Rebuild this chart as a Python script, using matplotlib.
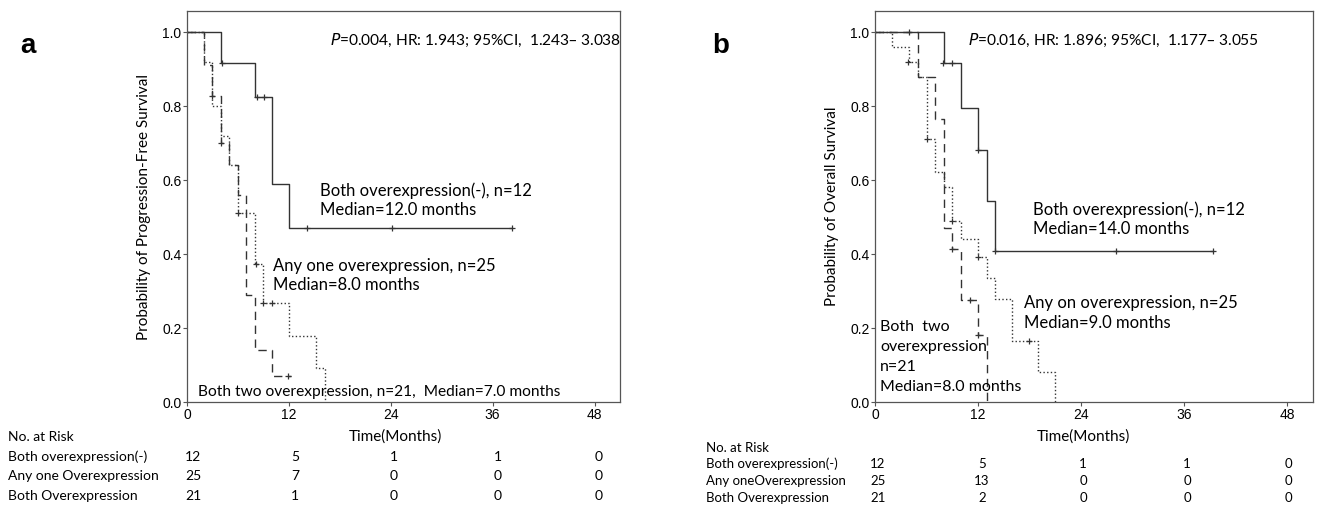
import numpy as np
import matplotlib.pyplot as plt

W, H = 1323, 505

# ---------------- panel a : progression-free survival ----------------
a_none_t = [0, 4, 8, 10, 12]
a_none_s = [1.0, 0.917, 0.825, 0.589, 0.471]
a_none_end = 38.3
a_none_cens_t = [4.1, 8.2, 9.1, 14.1, 24.2, 38.3]
a_none_cens_s = [0.917, 0.825, 0.825, 0.471, 0.471, 0.471]

a_one_t = [0, 2, 3, 4, 5, 6, 8, 9, 12, 15.2, 16.2]
a_one_s = [1.0, 0.92, 0.80, 0.72, 0.64, 0.51, 0.372, 0.268, 0.178, 0.092, 0.0]
a_one_end = 16.2
a_one_cens_t = [6.0, 8.1, 9.0, 10.0]
a_one_cens_s = [0.51, 0.372, 0.268, 0.268]

a_two_t = [0, 2, 3, 4, 5, 6, 7, 8, 10]
a_two_s = [1.0, 0.91, 0.826, 0.70, 0.64, 0.56, 0.29, 0.14, 0.07]
a_two_end = 12.2
a_two_cens_t = [3.0, 4.0, 11.9]
a_two_cens_s = [0.826, 0.70, 0.07]

# ---------------- panel b : overall survival ----------------
b_none_t = [0, 8, 10, 12, 13, 14]
b_none_s = [1.0, 0.917, 0.794, 0.682, 0.544, 0.408]
b_none_end = 39.4
b_none_cens_t = [7.9, 9.0, 12.0, 14.0, 28.1, 39.4]
b_none_cens_s = [0.917, 0.917, 0.682, 0.408, 0.408, 0.408]

b_one_t = [0, 2, 4, 5, 6, 7, 8, 9, 10, 12, 13, 14, 16, 19, 21]
b_one_s = [1.0, 0.96, 0.92, 0.878, 0.711, 0.621, 0.58, 0.488, 0.44, 0.391,
           0.334, 0.279, 0.165, 0.08, 0.0]
b_one_end = 21
b_one_cens_t = [3.9, 6.0, 9.0, 12.0, 17.9]
b_one_cens_s = [0.92, 0.711, 0.488, 0.391, 0.165]

b_two_t = [0, 5, 7, 8, 9, 10, 12, 13]
b_two_s = [1.0, 0.878, 0.766, 0.47, 0.413, 0.276, 0.181, 0.0]
b_two_end = 13
b_two_cens_t = [4.0, 9.0, 11.1, 12.0]
b_two_cens_s = [1.0, 0.413, 0.276, 0.181]

# number at risk tables
risk_times = [0, 12, 24, 36, 48]
a_risk_labels = ["Both overexpression(-)", "Any one Overexpression", "Both Overexpression"]
a_risk = [[12, 5, 1, 1, 0], [25, 7, 0, 0, 0], [21, 1, 0, 0, 0]]
b_risk_labels = ["Both overexpression(-)", "Any oneOverexpression", "Both Overexpression"]
b_risk = [[12, 5, 1, 1, 0], [25, 13, 0, 0, 0], [21, 2, 0, 0, 0]]

xticks = [0, 12, 24, 36, 48]
yticks = [0.0, 0.2, 0.4, 0.6, 0.8, 1.0]

LINE = '#333333'
ANN = ['Lato', 'DejaVu Sans']
TICKF = ['Liberation Sans', 'DejaVu Sans']


def fx(x):
    return x / W


def fy(y):
    return 1 - y / H


def draw_curve(ax, t, s, end, ct, cs, ls):
    xs = list(t) + [end]
    ys = list(s) + [s[-1]]
    ax.step(xs, ys, where='post', color=LINE, linewidth=1.0, linestyle=ls)
    ax.plot(ct, cs, linestyle='none', marker='+', markersize=5,
            markeredgewidth=0.9, color=LINE)


def setup_axes(left_px, right_px):
    ax = fig.add_axes([fx(left_px), fy(402), fx(right_px - left_px), (402 - 11) / H])
    ax.set_xlim(0, 51)
    ax.set_ylim(0, 1.057)
    ax.set_xticks(xticks)
    ax.set_yticks(yticks)
    ax.set_xticklabels([str(v) for v in xticks], fontfamily=TICKF, fontsize=10)
    ax.set_yticklabels(["%.1f" % v for v in yticks], fontfamily=TICKF, fontsize=10)
    ax.tick_params(direction='out', length=3, width=0.8, color='#555555', pad=1)
    for sp in ax.spines.values():
        sp.set_color('#555555')
        sp.set_linewidth(0.9)
    return ax


fig = plt.figure(figsize=(W / 100, H / 100), dpi=100)

dash = (0, (6, 4))

# ---- panel a ----
ax1 = setup_axes(187, 620)
draw_curve(ax1, a_none_t, a_none_s, a_none_end, a_none_cens_t, a_none_cens_s, '-')
draw_curve(ax1, a_one_t, a_one_s, a_one_end, a_one_cens_t, a_one_cens_s, ':')
draw_curve(ax1, a_two_t, a_two_s, a_two_end, a_two_cens_t, a_two_cens_s, dash)
ax1.set_ylabel("Probability of Progression-Free Survival", fontfamily=ANN, fontsize=11, labelpad=8)

fig.text(fx(20), fy(46), "a", fontsize=20, fontweight='bold', fontfamily=TICKF, va='center')
fig.text(fx(330), fy(40), r"$P$=0.004, HR: 1.943; 95%CI,  1.243– 3.038",
         fontfamily=ANN, fontsize=11.2, va='center')
fig.text(fx(320), fy(191), "Both overexpression(-), n=12", fontfamily=ANN, fontsize=12, va='center')
fig.text(fx(320), fy(210), "Median=12.0 months", fontfamily=ANN, fontsize=12, va='center')
fig.text(fx(273), fy(266), "Any one overexpression, n=25", fontfamily=ANN, fontsize=12, va='center')
fig.text(fx(273), fy(285), "Median=8.0 months", fontfamily=ANN, fontsize=12, va='center')
fig.text(fx(198), fy(392), "Both two overexpression, n=21,  Median=7.0 months",
         fontfamily=ANN, fontsize=11.2, va='center')
fig.text(fx(395), fy(437), "Time(Months)", fontfamily=ANN, fontsize=11, ha='center', va='center')

a_cols = [193, 295, 394, 498, 599]
fig.text(fx(8), fy(437), "No. at Risk", fontfamily=ANN, fontsize=10, va='center')
for i, lab in enumerate(a_risk_labels):
    yy = 457 + i * 19.5
    fig.text(fx(8), fy(yy), lab, fontfamily=ANN, fontsize=10, va='center')
    for j, v in enumerate(a_risk[i]):
        fig.text(fx(a_cols[j]), fy(yy), str(v), fontfamily=ANN, fontsize=10,
                 ha='center', va='center')

# ---- panel b ----
ax2 = setup_axes(875, 1313)
draw_curve(ax2, b_none_t, b_none_s, b_none_end, b_none_cens_t, b_none_cens_s, '-')
draw_curve(ax2, b_one_t, b_one_s, b_one_end, b_one_cens_t, b_one_cens_s, ':')
draw_curve(ax2, b_two_t, b_two_s, b_two_end, b_two_cens_t, b_two_cens_s, dash)
ax2.set_ylabel("Probability of Overall Survival", fontfamily=ANN, fontsize=11, labelpad=8)

fig.text(fx(712), fy(46), "b", fontsize=20, fontweight='bold', fontfamily=TICKF, va='center')
fig.text(fx(968), fy(40), r"$P$=0.016, HR: 1.896; 95%CI,  1.177– 3.055",
         fontfamily=ANN, fontsize=11.2, va='center')
fig.text(fx(1033), fy(210), "Both overexpression(-), n=12", fontfamily=ANN, fontsize=12, va='center')
fig.text(fx(1033), fy(229), "Median=14.0 months", fontfamily=ANN, fontsize=12, va='center')
fig.text(fx(1024), fy(303), "Any on overexpression, n=25", fontfamily=ANN, fontsize=12, va='center')
fig.text(fx(1024), fy(323), "Median=9.0 months", fontfamily=ANN, fontsize=12, va='center')
for k, line in enumerate(["Both  two", "overexpression", "n=21", "Median=8.0 months"]):
    fig.text(fx(880), fy(327 + k * 20), line, fontfamily=ANN, fontsize=11.5, va='center')
fig.text(fx(1083), fy(437), "Time(Months)", fontfamily=ANN, fontsize=11, ha='center', va='center')

b_cols = [878, 982, 1083, 1187, 1288]
fig.text(fx(706), fy(448), "No. at Risk", fontfamily=ANN, fontsize=9.5, va='center')
for i, lab in enumerate(b_risk_labels):
    yy = 464 + i * 17
    fig.text(fx(706), fy(yy), lab, fontfamily=ANN, fontsize=9.5, va='center')
    for j, v in enumerate(b_risk[i]):
        fig.text(fx(b_cols[j]), fy(yy), str(v), fontfamily=ANN, fontsize=9.5,
                 ha='center', va='center')

fig.savefig("out.png", dpi=100)
